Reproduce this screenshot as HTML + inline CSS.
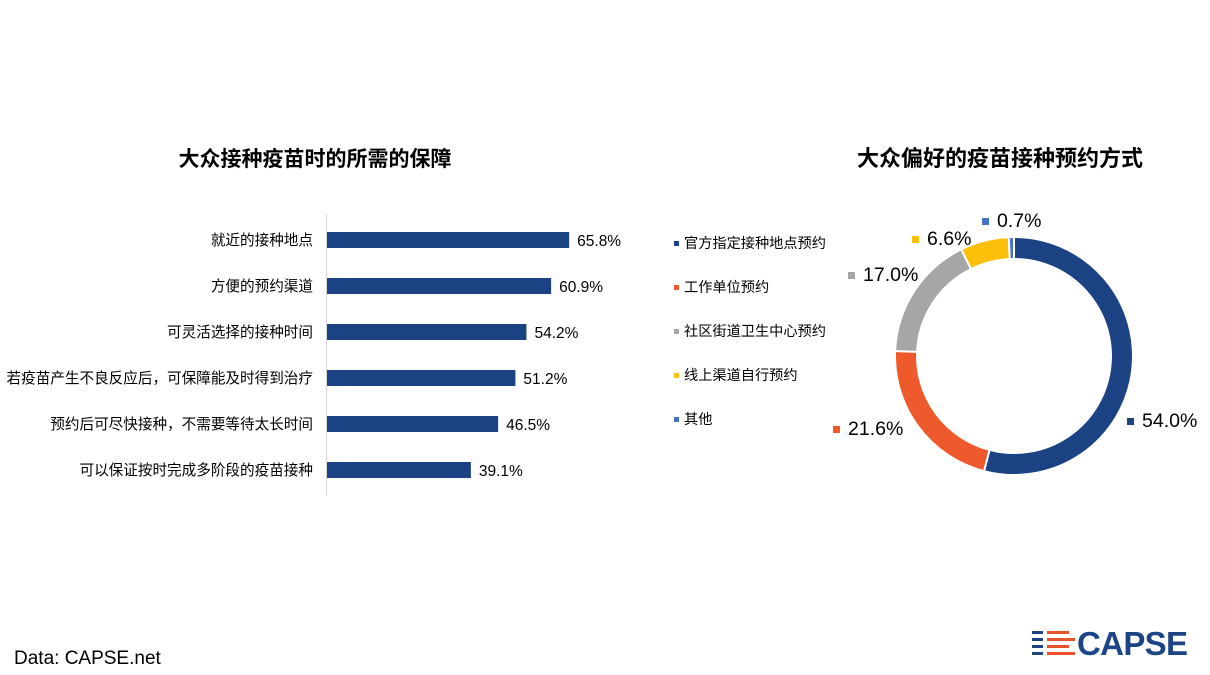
<!DOCTYPE html>
<html><head><meta charset="utf-8"><style>
body{margin:0;width:1210px;height:675px;background:#fff;overflow:hidden;font-family:"Liberation Sans","Noto Sans CJK SC",sans-serif}
svg{position:absolute;left:0;top:0}
</style></head><body>
<svg width="1210" height="675" id="svg">
<text x="315" y="166" text-anchor="middle" font-size="21" font-weight="bold" fill="#000">大众接种疫苗时的所需的保障</text>
<text x="1000" y="166" text-anchor="middle" font-size="22" font-weight="bold" fill="#000">大众偏好的疫苗接种预约方式</text>
<line x1="326.5" y1="214" x2="326.5" y2="496" stroke="#d9d9d9" stroke-width="1"/>
<g id="bars"></g>
<g id="donut"></g>
<g id="legend"></g>
<text x="14" y="664" font-size="19" fill="#000">Data: CAPSE.net</text>
<g>
<rect x="1032" y="631" width="11" height="3" fill="#1d4485"/><rect x="1047" y="631" width="22" height="3" fill="#e8542a"/>
<rect x="1032" y="638" width="11" height="3" fill="#1d4485"/><rect x="1047" y="638" width="28" height="3" fill="#e8542a"/>
<rect x="1032" y="645" width="11" height="3" fill="#1d4485"/><rect x="1047" y="645" width="22" height="3" fill="#e8542a"/>
<rect x="1032" y="652" width="11" height="3" fill="#1d4485"/><rect x="1047" y="652" width="28" height="3" fill="#e8542a"/>
<text x="1077" y="655" font-size="33" font-weight="bold" fill="#1d4485" textLength="111">CAPSE</text>
</g>
</svg>
<script>
const barCategories=["就近的接种地点","方便的预约渠道","可灵活选择的接种时间","若疫苗产生不良反应后，可保障能及时得到治疗","预约后可尽快接种，不需要等待太长时间","可以保证按时完成多阶段的疫苗接种"];
const barValues=[65.8,60.9,54.2,51.2,46.5,39.1];
const donutCategories=["官方指定接种地点预约","工作单位预约","社区街道卫生中心预约","线上渠道自行预约","其他"];
const donutValues=[54.0,21.6,17.0,6.6,0.7];
const donutColors=["#1b4383","#ee5a2b","#a6a6a6","#fcc00a","#4472c4"];
const NS="http://www.w3.org/2000/svg";
function mk(t,a,p){const e=document.createElementNS(NS,t);for(const k in a)e.setAttribute(k,a[k]);p.appendChild(e);return e;}
const xS=v=>327+v*3.68, yS=i=>240+i*46;
const bg=document.getElementById('bars');
barCategories.forEach((c,i)=>{
 const y=yS(i);
 const r=mk('rect',{x:327,y:y-8,width:xS(barValues[i])-327,height:16,fill:'#1b4383'},bg);
 
 
 const l=mk('text',{x:313,y:y+5,'text-anchor':'end','font-size':14.6,fill:'#000'},bg);l.textContent=c;
 
 
 const v=mk('text',{x:xS(barValues[i])+8,y:y+6,'font-size':15.5,fill:'#000'},bg);v.textContent=barValues[i].toFixed(1)+'%';
 
 
});
const dg=document.getElementById('donut');
const cx=1014,cy=356,R=119,r0=97;
const tot=donutValues.reduce((a,b)=>a+b,0);
let acc=0;
const pt=(a,rr)=>[cx+rr*Math.sin(a),cy-rr*Math.cos(a)];
const lblPos=[[1127,426],[833,434],[848,280],[912,244],[982,226]];
donutValues.forEach((v,i)=>{
 const a0=acc/tot*2*Math.PI;acc+=v;const a1=acc/tot*2*Math.PI;
 const lg=(a1-a0)>Math.PI?1:0;
 const p1=pt(a0,R),p2=pt(a1,R),p3=pt(a1,r0),p4=pt(a0,r0);
 const s=mk('path',{d:`M${p1}A${R},${R} 0 ${lg} 1 ${p2}L${p3}A${r0},${r0} 0 ${lg} 0 ${p4}Z`,fill:donutColors[i],stroke:'#fff','stroke-width':2},dg);
 
 
 const [lx,ly]=lblPos[i];
 mk('rect',{x:lx,y:ly-8,width:7,height:7,fill:donutColors[i]},dg);
 const t=mk('text',{x:lx+15,y:ly+1,'font-size':19.5,fill:'#000'},dg);t.textContent=v.toFixed(1)+'%';
 
 
});
const lgG=document.getElementById('legend');
donutCategories.forEach((c,i)=>{
 const y=247+i*44;
 mk('rect',{x:674,y:y-6,width:5,height:5,fill:donutColors[i]},lgG);
 const t=mk('text',{x:684,y:y+1,'font-size':14.2,fill:'#000'},lgG);t.textContent=c;
 
 
});
</script>
</body></html>
